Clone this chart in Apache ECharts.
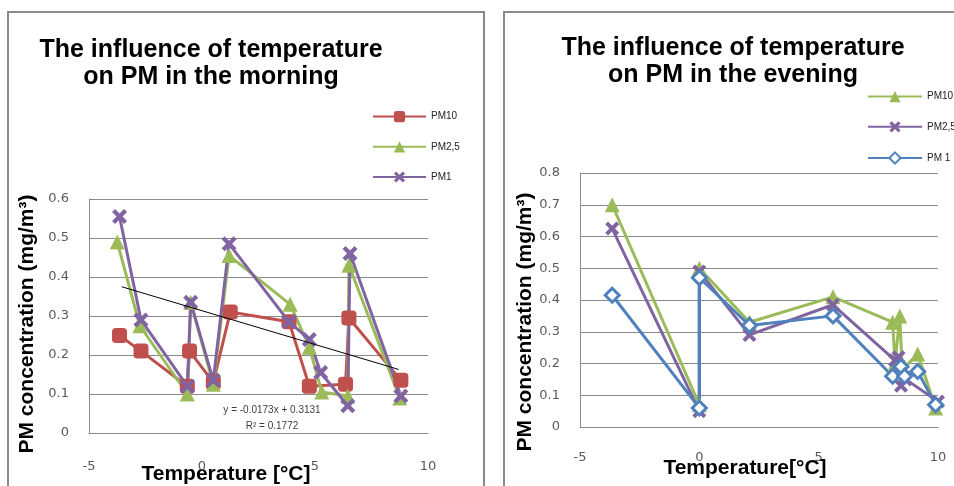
<!DOCTYPE html>
<html><head><meta charset="utf-8">
<script src="https://cdn.jsdelivr.net/npm/echarts@6/dist/echarts.min.js"></script>
<style>html,body{margin:0;padding:0;background:#fff}#c{width:954px;height:486px}</style>
</head><body><div id="c"></div>
<script>
// ---------- data ----------
const xTickMin = -5, xTickMax = 10, xTickStep = 5;
// Morning
const mPM10x  = [-3.65,-2.7,-0.65,-0.55,0.5,1.25,3.85,4.75,6.35,6.5,8.8];
const mPM10y  = [0.25,0.21,0.12,0.21,0.13,0.31,0.285,0.12,0.125,0.295,0.135];
const mPM25x  = [-3.75,-2.75,-0.65,-0.5,0.5,1.2,3.9,4.75,5.3,6.45,6.5,8.75];
const mPM25y  = [0.49,0.275,0.10,0.335,0.125,0.455,0.33,0.22,0.105,0.095,0.43,0.09];
const mPM1x   = [-3.65,-2.7,-0.65,-0.5,0.5,1.2,3.85,4.75,5.25,6.45,6.55,8.8];
const mPM1y   = [0.555,0.29,0.12,0.335,0.135,0.485,0.285,0.24,0.155,0.07,0.46,0.095];
const mTrendX = [-3.55,8.7];
const mTrendY = [0.375,0.163];
const mTrendText = ['y = -0.0173x + 0.3131','R\u00b2 = 0.1772'];
// Evening
const ePM10x  = [-3.65,0,0,2.1,5.6,8.1,8.2,8.4,8.5,9.15,9.9];
const ePM10y  = [0.70,0.07,0.50,0.33,0.41,0.33,0.20,0.35,0.18,0.23,0.06];
const ePM25x  = [-3.65,0,0,2.1,5.6,8.2,8.35,8.45,8.65,10.0];
const ePM25y  = [0.625,0.05,0.49,0.29,0.385,0.21,0.22,0.13,0.15,0.08];
const ePM1x   = [-3.65,0,0,2.1,5.6,8.1,8.45,8.6,9.15,9.9];
const ePM1y   = [0.415,0.06,0.47,0.32,0.35,0.16,0.19,0.16,0.175,0.07];

const titles = ['The influence of temperature\non PM in the morning','The influence of temperature\non PM in the evening'];
const xNames = ['Temperature [\u00b0C]','Temperature[\u00b0C]'];
const yName = 'PM concentration (mg/m\u00b3)';
const leftNames = ['PM10','PM2,5','PM1'];
const rightNames = ['PM10 ','PM2,5 ','PM 1'];

// ---------- style ----------
const RED='#C0504D', GREEN='#9BBB59', PURPLE='#8064A2', BLUE='#4F81BD';
const XPATH='path://M0,2 L2,0 L5,3 L8,0 L10,2 L7,5 L10,8 L8,10 L5,7 L2,10 L0,8 L3,5 Z';
const pairs=(xs,ys)=>xs.map((x,i)=>[x,ys[i]]);
const GRAY='#8a8a8a';
const tickFont={color:'#595959',fontSize:13,fontFamily:'DejaVu Sans'};

function xAxis(gi,margin){return {type:'value',gridIndex:gi,min:xTickMin,max:xTickMax,interval:xTickStep,
  axisLine:{show:true,onZero:false,lineStyle:{color:GRAY,width:1}},axisTick:{show:false},splitLine:{show:false},
  axisLabel:Object.assign({margin:margin,showMinLabel:true,showMaxLabel:true},tickFont)};}
function yAxis(gi,max){return {type:'value',gridIndex:gi,min:0,max:max,interval:0.1,
  axisLine:{show:true,onZero:false,lineStyle:{color:GRAY,width:1}},axisTick:{show:false},
  splitLine:{show:true,lineStyle:{color:GRAY,width:1}},
  axisLabel:Object.assign({margin:20,formatter:v=>String(Math.round(v*10)/10)},tickFont)};}
function ser(name,xi,data,color,symbol,size,extra){
  const s={name:name,type:'line',xAxisIndex:xi,yAxisIndex:xi,data:data,symbol:symbol,symbolSize:size,
    lineStyle:{color:color,width:3},itemStyle:{color:color},emphasis:{disabled:true},animation:false};
  return Object.assign(s,extra||{});
}
const hollow={itemStyle:{color:'#fff',borderColor:BLUE,borderWidth:3}};

const legendText={fontSize:10,color:'#222',fontFamily:'Liberation Sans'};

const option={
  animation:false,
  title:[
    {text:titles[0],left:206,top:32,textAlign:'center',textStyle:{fontSize:25,fontWeight:'bold',lineHeight:27,color:'#000',fontFamily:'Liberation Sans'}},
    {text:titles[1],left:728,top:30,textAlign:'center',textStyle:{fontSize:25,fontWeight:'bold',lineHeight:27,color:'#000',fontFamily:'Liberation Sans'}}
  ],
  legend:[
    {data:leftNames,orient:'vertical',left:367,top:106,itemWidth:53,itemHeight:14,itemGap:19,textStyle:legendText,selectedMode:false},
    {data:rightNames,orient:'vertical',left:862,top:86,itemWidth:54,itemHeight:14,itemGap:19,textStyle:legendText,selectedMode:false}
  ],
  grid:[
    {left:89,right:526,top:199,bottom:53,outerBoundsMode:'none'},
    {left:580,right:16,top:173,bottom:59,outerBoundsMode:'none'}
  ],
  xAxis:[xAxis(0,27),xAxis(1,24)],
  yAxis:[yAxis(0,0.6),yAxis(1,0.8)],
  series:[
    ser(leftNames[0],0,pairs(mPM10x,mPM10y),RED,'roundRect',15),
    ser(leftNames[1],0,pairs(mPM25x,mPM25y),GREEN,'triangle',15),
    ser(leftNames[2],0,pairs(mPM1x,mPM1y),PURPLE,XPATH,15),
    {name:'trend',type:'line',xAxisIndex:0,yAxisIndex:0,data:pairs(mTrendX,mTrendY),symbol:'none',silent:true,
      lineStyle:{color:'#000',width:1},z:5,animation:false},
    ser(rightNames[0],1,pairs(ePM10x,ePM10y),GREEN,'triangle',15),
    ser(rightNames[1],1,pairs(ePM25x,ePM25y),PURPLE,XPATH,14),
    ser(rightNames[2],1,pairs(ePM1x,ePM1y),BLUE,'diamond',14,hollow)
  ],
  graphic:[
    {type:'rect',shape:{x:8,y:12,width:476,height:500},style:{fill:'none',stroke:GRAY,lineWidth:2},silent:true},
    {type:'rect',shape:{x:504,y:12,width:470,height:500},style:{fill:'none',stroke:GRAY,lineWidth:2},silent:true},
    {type:'text',x:27,y:324,rotation:Math.PI/2,style:{text:yName,font:'bold 21px "Liberation Sans"',fill:'#000',textAlign:'center',textVerticalAlign:'middle'}},
    {type:'text',x:525,y:322,rotation:Math.PI/2,style:{text:yName,font:'bold 21px "Liberation Sans"',fill:'#000',textAlign:'center',textVerticalAlign:'middle'}},
    {type:'text',x:226,y:474,style:{text:xNames[0],font:'bold 21px "Liberation Sans"',fill:'#000',textAlign:'center',textVerticalAlign:'middle'}},
    {type:'text',x:745,y:468,style:{text:xNames[1],font:'bold 21px "Liberation Sans"',fill:'#000',textAlign:'center',textVerticalAlign:'middle'}},
    {type:'text',x:272,y:410,style:{text:mTrendText[0],font:'10px "Liberation Sans"',fill:'#404040',textAlign:'center',textVerticalAlign:'middle'}},
    {type:'text',x:272,y:426,style:{text:mTrendText[1],font:'10px "Liberation Sans"',fill:'#404040',textAlign:'center',textVerticalAlign:'middle'}}
  ]
};
const chart=echarts.init(document.getElementById('c'),null,{renderer:'canvas'});
chart.setOption(option);
</script></body></html>
